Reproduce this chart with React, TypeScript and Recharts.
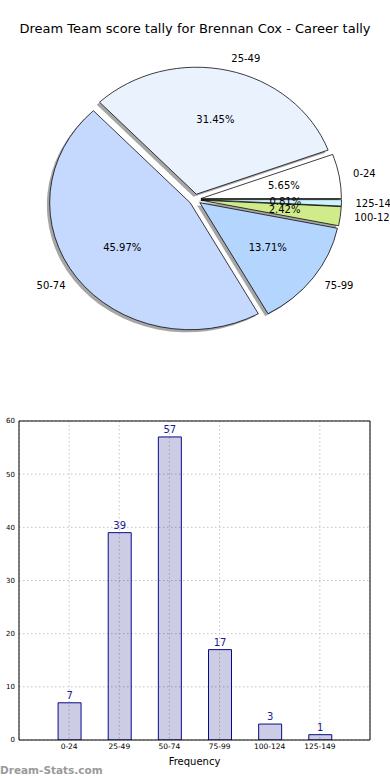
import React from 'react';
import {
  PieChart, Pie, Cell, Sector, BarChart, Bar, XAxis, YAxis, CartesianGrid, LabelList, ReferenceLine,
} from 'recharts';

const categories = ['0-24', '25-49', '50-74', '75-99', '100-124', '125-149'];
const counts = [7, 39, 57, 17, 3, 1];
const pieColors = ['#ffffff', '#eaf2fe', '#c5d9fe', '#b4d5fe', '#d0ec8a', '#cdf3fe'];
const yTicks = [0, 10, 20, 30, 40, 50, 60];
const xTicks = [1, 2, 3, 4, 5, 6];

const pieData = categories.map((name, i) => ({ name, value: counts[i] }));
const barData = categories.map((name, i) => ({ name, pos: i + 1, count: counts[i] }));

const FONT = '"DejaVu Sans", sans-serif';
const RX = 140.5;
const K = 127 / 140.5; // matplotlib pie without equal aspect -> ellipse
const EXPLODE = 6;

const offsetOf = (midAngle: number) => {
  const rad = (midAngle * Math.PI) / 180;
  return { dx: EXPLODE * Math.cos(rad), dy: -EXPLODE * Math.sin(rad) };
};

const renderWedge = (props: any) => {
  const { cx, cy, midAngle, startAngle, endAngle, outerRadius, fill } = props;
  const { dx, dy } = offsetOf(midAngle);
  return (
    <g transform={`translate(${cx},${cy}) scale(1,${K}) translate(${dx},${dy})`}>
      <Sector
        cx={0} cy={0} innerRadius={0} outerRadius={outerRadius}
        startAngle={startAngle} endAngle={endAngle}
        fill={fill} stroke="#000" strokeWidth={0.8}
      />
    </g>
  );
};

const renderShadow = (props: any) => {
  const { cx, cy, midAngle, startAngle, endAngle, outerRadius } = props;
  const { dx, dy } = offsetOf(midAngle);
  return (
    <g transform={`translate(${cx - 2.8},${cy + 2.6}) scale(1,${K}) translate(${dx},${dy})`}>
      <Sector
        cx={0} cy={0} innerRadius={0} outerRadius={outerRadius}
        startAngle={startAngle} endAngle={endAngle}
        fill="#4d4d4d" fillOpacity={0.5} stroke="none"
      />
    </g>
  );
};

const renderPieLabel = (props: any) => {
  const { cx, cy, midAngle, outerRadius, percent, name } = props;
  const rad = (midAngle * Math.PI) / 180;
  const { dx, dy } = offsetOf(midAngle);
  const ox = cx + dx;
  const oy = cy + dy * K;
  const lx = ox + 1.1 * outerRadius * Math.cos(rad);
  const ly = oy - 1.1 * outerRadius * K * Math.sin(rad);
  const px = ox + 0.6 * outerRadius * Math.cos(rad);
  const py = oy - 0.6 * outerRadius * K * Math.sin(rad);
  return (
    <g fontFamily={FONT} fontSize={10} fill="#000">
      <text x={lx} y={ly} dy="0.35em" textAnchor={lx > ox ? 'start' : 'end'}>{name}</text>
      <text x={px} y={py} dy="0.35em" textAnchor="middle">{`${(percent * 100).toFixed(2)}%`}</text>
    </g>
  );
};

export default function App() {
  return (
    <div style={{ position: 'absolute', left: 0, top: 0, width: 390, height: 780, background: '#fff' }}>
      <div style={{
        position: 'absolute', top: 21, left: 0, width: 390, textAlign: 'center',
        fontFamily: FONT, fontSize: 13, color: '#000', whiteSpace: 'nowrap',
      }}>
        Dream Team score tally for Brennan Cox - Career tally
      </div>

      <div style={{ position: 'absolute', top: 0, left: 0 }}>
        <PieChart width={390} height={380} margin={{ top: 0, right: 0, bottom: 0, left: 0 }}>
          <Pie
            data={pieData} dataKey="value" nameKey="name"
            cx={195} cy={199.5} outerRadius={RX} startAngle={0} endAngle={360}
            shape={renderShadow} activeShape={renderShadow} inactiveShape={renderShadow}
            isAnimationActive={false} stroke="none"
          >
            {pieData.map((d) => <Cell key={d.name} fill="#4d4d4d" />)}
          </Pie>
          <Pie
            data={pieData} dataKey="value" nameKey="name"
            cx={195} cy={199.5} outerRadius={RX} startAngle={0} endAngle={360}
            shape={renderWedge} activeShape={renderWedge} inactiveShape={renderWedge}
            label={renderPieLabel} labelLine={false}
            isAnimationActive={false}
          >
            {pieData.map((d, i) => <Cell key={d.name} fill={pieColors[i]} stroke="#000" />)}
          </Pie>
        </PieChart>
      </div>

      <div style={{ position: 'absolute', top: 400, left: 0 }}>
        <BarChart width={390} height={380} data={barData} margin={{ top: 21, right: 20, bottom: 10, left: 0 }}>
          <CartesianGrid stroke="#c4c4c4" strokeDasharray="1.5 2.5" />
          <XAxis
            dataKey="pos" type="number" domain={[0, 7]} ticks={xTicks} height={30}
            tickFormatter={(v: number) => categories[v - 1]}
            tick={{ fontSize: 7.5, fill: '#000', fontFamily: FONT }}
            tickLine={false} tickSize={0} tickMargin={4}
            axisLine={{ stroke: '#000' }}
            label={{ value: 'Frequency', position: 'insideBottom', offset: 5, fontSize: 10, fill: '#000', fontFamily: FONT }}
          />
          <YAxis
            domain={[0, 60]} ticks={yTicks} width={19} allowDataOverflow
            tick={{ fontSize: 7, fill: '#000', fontFamily: FONT }}
            tickLine={false} tickSize={0} tickMargin={4}
            axisLine={{ stroke: '#000' }}
          />
          <ReferenceLine y={60} stroke="#000" />
          <ReferenceLine x={7} stroke="#000" />
          <Bar dataKey="count" barSize={23} fill="#00007a" fillOpacity={0.2} stroke="#0a0a8c" strokeWidth={1} isAnimationActive={false}>
            <LabelList dataKey="count" position="top" offset={4} fill="#1a1a99" fontSize={10} fontFamily={FONT} />
          </Bar>
        </BarChart>
      </div>

      <div style={{
        position: 'absolute', top: 764, left: 0, fontFamily: FONT, fontSize: 10.5,
        color: '#9a9a9a', fontWeight: 'bold',
      }}>
        Dream-Stats.com
      </div>
    </div>
  );
}
